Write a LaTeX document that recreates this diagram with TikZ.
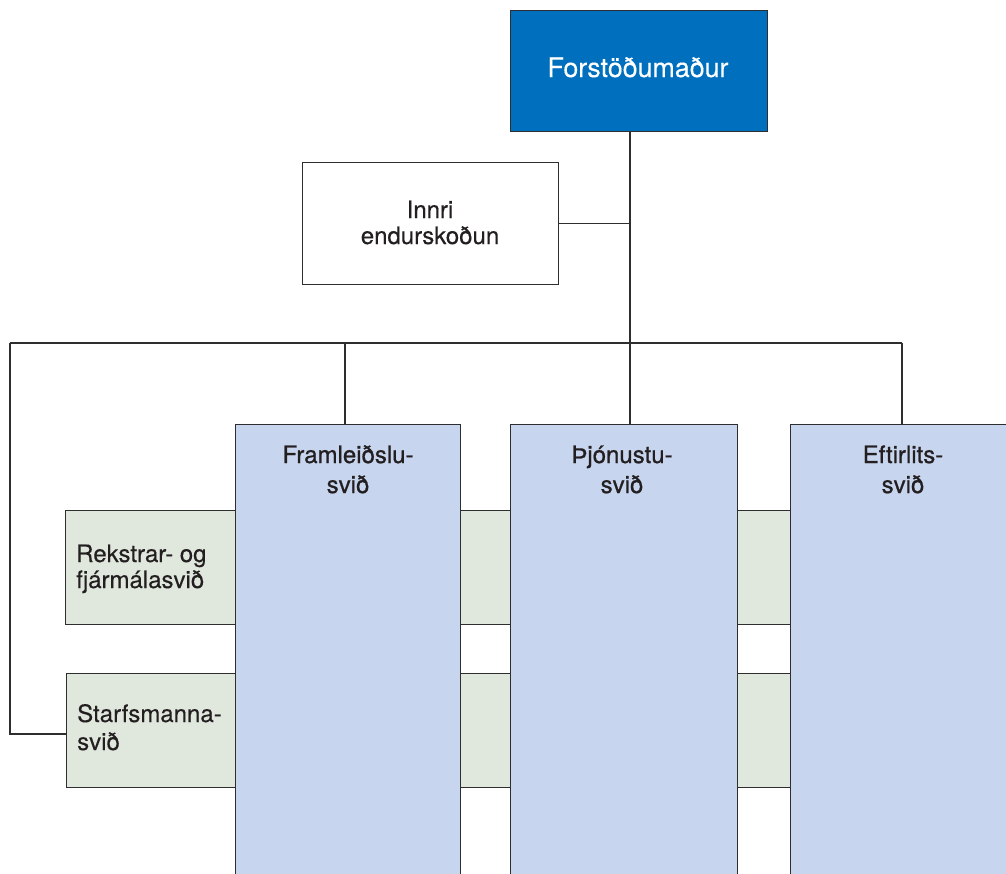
\documentclass[tikz,border=0pt]{standalone}
\usepackage{fontspec}
\setmainfont[FakeBold=0.3]{TeX Gyre Heros}
\newfontfamily\headfont[FakeBold=0.8]{TeX Gyre Heros}
\definecolor{topblue}{HTML}{0070BE}
\definecolor{colblue}{HTML}{C7D5EE}
\definecolor{bandgreen}{HTML}{E0E8DE}
\definecolor{ink}{HTML}{2E2E2E}
\definecolor{txt}{HTML}{231F20}

\begin{document}
\begin{tikzpicture}[x=1pt,y=-1pt,
  box/.style={draw=ink, line width=1.1pt, rectangle, inner sep=0pt, anchor=north west},
  chief/.style={box, fill=topblue},
  staffbox/.style={box, fill=white},
  column/.style={box, fill=colblue},
  band/.style={box, fill=bandgreen},
  link/.style={draw=ink, line width=1.1pt},
  chieftext/.style={text=white, font=\fontsize{26.8}{30}\selectfont, inner sep=0pt},
  plaintext/.style={text=txt, font=\fontsize{24}{27}\selectfont, inner sep=0pt},
  coltext/.style={text=txt, font=\headfont\fontsize{24}{30}\selectfont, inner sep=0pt, align=center}
]
\useasboundingbox (0,0) rectangle (1006,873);
\clip (0,0) rectangle (1006,873);

% cross-cutting bands (behind the columns)
\node[band, minimum width=850pt, minimum height=114pt] (rek) at (65,510) {};
\node[band, minimum width=850pt, minimum height=114pt] (starf) at (66,673) {};

% divisions
\node[column, minimum width=225pt, minimum height=480pt] (fram) at (235,424) {};
\node[column, minimum width=227pt, minimum height=480pt] (thj) at (510,424) {};
\node[column, minimum width=227pt, minimum height=480pt] (eft) at (790,424) {};

% director and internal audit
\node[chief, minimum width=257pt, minimum height=121pt] (chiefbox) at (510,10) {};
\node[staffbox, minimum width=256pt, minimum height=122pt] (audit) at (302,162) {};

% helper points of the connector tree
\coordinate (spine) at (630,343);
\coordinate (busL) at (10,343);
\coordinate (busR) at (902,343);
\coordinate (framdrop) at (345,343);
\coordinate (starfjoin) at (66,734);

% connectors
\draw[link] (spine |- chiefbox.south) -- (spine |- thj.north);
\draw[link] (audit.east) -- (audit.east -| spine);
\draw[link] (busL) -- (busR);
\draw[link] (framdrop) -- (framdrop |- fram.north);
\draw[link] (busR) -- (busR |- eft.north);
\draw[link] (busL) |- (starfjoin);

% texts
\node[chieftext, anchor=base] (chieflbl) at (638,77) {Forstöðumaður};
\node[plaintext, anchor=base] (auditlbl1) at (430,218) {Innri};
\node[plaintext, anchor=base] (auditlbl2) at (430,244) {endurskoðun};
\node[coltext, anchor=base] (framlbl1) at (fram.north |- 0,463) {Framleiðslu-};
\node[coltext, anchor=base] (framlbl2) at (fram.north |- 0,493) {svið};
\node[coltext, anchor=base] (thjlbl1) at (622,463) {Þjónustu-};
\node[coltext, anchor=base] (thjlbl2) at (622,493) {svið};
\node[coltext, anchor=base] (eftlbl1) at (903,463) {Eftirlits-};
\node[coltext, anchor=base] (eftlbl2) at (903,493) {svið};
\node[plaintext, anchor=base west] (reklbl1) at (76,562) {Rekstrar- og};
\node[plaintext, anchor=base west] (reklbl2) at (76,588) {fjármálasvið};
\node[plaintext, anchor=base west] (starflbl1) at (77,722) {Starfsmanna-};
\node[plaintext, anchor=base west] (starflbl2) at (77,750) {svið};
\end{tikzpicture}
\end{document}
